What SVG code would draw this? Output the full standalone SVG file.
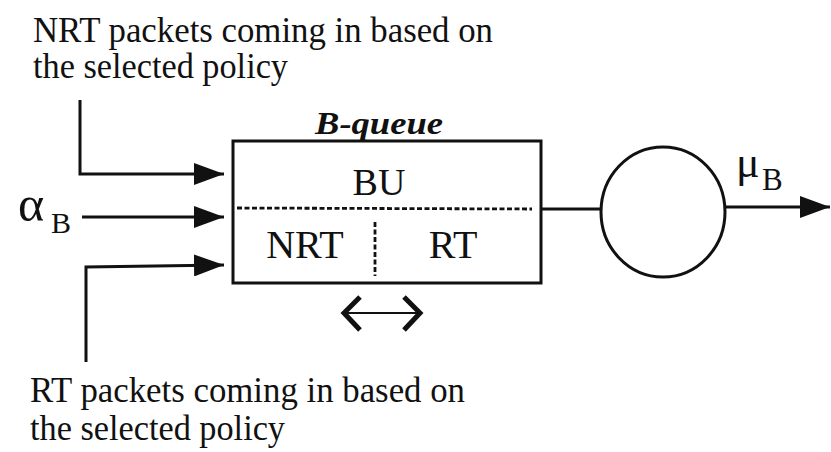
<svg xmlns="http://www.w3.org/2000/svg" width="831" height="452" viewBox="0 0 831 452">
<style>
.t{font-family:"Liberation Serif","Times New Roman",serif;fill:#111}
.ln{fill:none;stroke:#111;stroke-width:3}
.ds{fill:none;stroke:#111;stroke-width:2.8;stroke-dasharray:5 2.5}
</style>
<defs>
<marker id="ah" markerUnits="userSpaceOnUse" markerWidth="32" markerHeight="22" refX="30" refY="11" orient="auto">
<path d="M0,0 L30,11 L0,22 Z" fill="#111"/>
</marker>
</defs>
<rect width="831" height="452" fill="#fff"/>
<g id="label-nrt">
<text class="t" x="33" y="42" font-size="35" textLength="460" lengthAdjust="spacingAndGlyphs">NRT packets coming in based on</text>
<text class="t" x="33" y="78" font-size="35" textLength="255" lengthAdjust="spacingAndGlyphs">the selected policy</text>
</g>
<g id="label-rt">
<text class="t" x="30" y="402" font-size="35" textLength="435" lengthAdjust="spacingAndGlyphs">RT packets coming in based on</text>
<text class="t" x="30" y="440" font-size="35" textLength="255" lengthAdjust="spacingAndGlyphs">the selected policy</text>
</g>
<g id="alpha">
<text class="t" x="18" y="221" font-size="50">α</text>
<text class="t" x="51" y="233" font-size="30">B</text>
</g>
<g id="bqueue">
<text class="t" x="315" y="134" font-size="32" font-weight="bold" font-style="italic" textLength="128" lengthAdjust="spacingAndGlyphs">B-queue</text>
<rect class="ln" x="233" y="141" width="308" height="142"/>
<line class="ds" x1="237" y1="208" x2="532" y2="209"/>
<line class="ds" x1="375" y1="222" x2="375" y2="276"/>
<text class="t" x="379" y="195" font-size="38" text-anchor="middle">BU</text>
<text class="t" x="305" y="258" font-size="40" text-anchor="middle">NRT</text>
<text class="t" x="453" y="258" font-size="40" text-anchor="middle">RT</text>
</g>
<g id="server">
<ellipse class="ln" cx="663" cy="212" rx="62" ry="65"/>
<text class="t" x="736" y="177" font-size="44">μ</text>
<text class="t" x="762" y="190" font-size="31">B</text>
</g>
<g id="shift">
<line x1="346" y1="313" x2="418" y2="313" stroke="#111" stroke-width="2"/>
<polyline points="360,297 344,313 360,330" fill="none" stroke="#111" stroke-width="5"/>
<polyline points="404,297 420,313 404,330" fill="none" stroke="#111" stroke-width="5"/>
</g>
<g id="connectors">
<polyline class="ln" points="80,100 80,174 224,174" marker-end="url(#ah)"/>
<line class="ln" x1="82" y1="217" x2="224" y2="217" marker-end="url(#ah)"/>
<polyline class="ln" points="86,362 86,267 224,265" marker-end="url(#ah)"/>
<line class="ln" x1="541" y1="209" x2="601" y2="209"/>
<line class="ln" x1="725" y1="207" x2="830" y2="207" marker-end="url(#ah)"/>
</g>
</svg>
